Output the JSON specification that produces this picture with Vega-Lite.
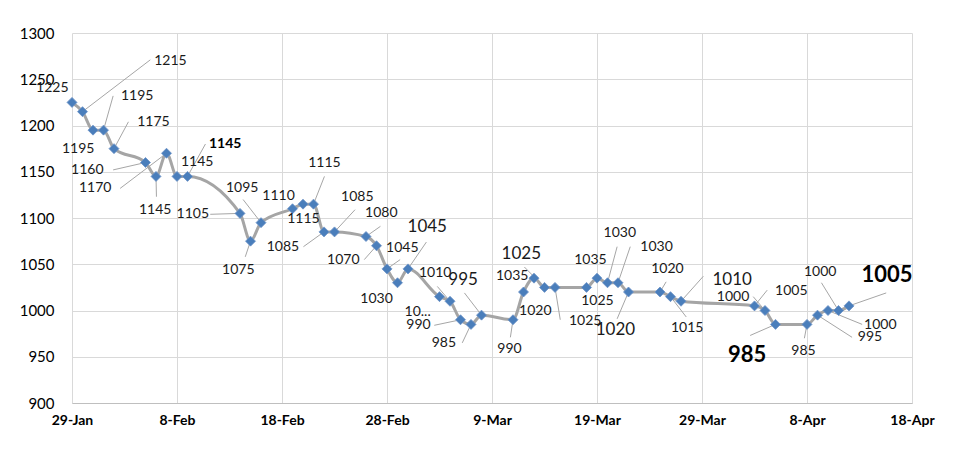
{
  "$schema": "https://vega.github.io/schema/vega-lite/v6.json",
  "width": 840,
  "height": 370,
  "autosize": {"type": "none"},
  "padding": {"left": 72, "top": 33, "right": 68, "bottom": 67},
  "background": "white",
  "config": {
    "view": {"stroke": null},
    "font": "Lato",
    "axis": {"labelFont": "Lato", "labelColor": "#000000", "gridColor": "#d9d9d9", "gridWidth": 1, "ticks": false}
  },
  "data": {
    "values": [
      {"date": "2020-01-29T00:00", "value": 1225, "label": "1225", "emphasis": "none", "labelDate": "2020-01-27T03:00", "labelValue": 1241},
      {"date": "2020-01-30T00:00", "value": 1215, "label": "1215", "emphasis": "none", "labelDate": "2020-02-07T09:00", "labelValue": 1270, "leaderDate": "2020-02-05T11:00", "leaderValue": 1271},
      {"date": "2020-01-31T00:00", "value": 1195, "label": "1195", "emphasis": "none", "labelDate": "2020-01-29T14:00", "labelValue": 1175},
      {"date": "2020-02-01T00:00", "value": 1195, "label": "1195", "emphasis": "none", "labelDate": "2020-02-04T05:00", "labelValue": 1232, "leaderDate": "2020-02-01T22:00", "leaderValue": 1232},
      {"date": "2020-02-02T00:00", "value": 1175, "label": "1175", "emphasis": "none", "labelDate": "2020-02-05T18:00", "labelValue": 1204, "leaderDate": "2020-02-03T09:00", "leaderValue": 1204},
      {"date": "2020-02-05T00:00", "value": 1160, "label": "1160", "emphasis": "none", "labelDate": "2020-01-30T11:00", "labelValue": 1152, "leaderDate": "2020-02-01T22:00", "leaderValue": 1152},
      {"date": "2020-02-06T00:00", "value": 1145, "label": "1145", "emphasis": "none", "labelDate": "2020-02-05T22:00", "labelValue": 1109, "leaderDate": "2020-02-06T01:00", "leaderValue": 1123},
      {"date": "2020-02-07T00:00", "value": 1170, "label": "1170", "emphasis": "none", "labelDate": "2020-01-31T05:00", "labelValue": 1132, "leaderDate": "2020-02-02T14:00", "leaderValue": 1132},
      {"date": "2020-02-08T00:00", "value": 1145, "label": "1145", "emphasis": "none", "labelDate": "2020-02-09T22:00", "labelValue": 1161},
      {"date": "2020-02-09T00:00", "value": 1145, "label": "1145", "emphasis": "bold", "labelDate": "2020-02-12T14:00", "labelValue": 1180, "leaderDate": "2020-02-10T17:00", "leaderValue": 1180},
      {"date": "2020-02-14T00:00", "value": 1105, "label": "1105", "emphasis": "none", "labelDate": "2020-02-09T12:00", "labelValue": 1104, "leaderDate": "2020-02-11T04:00", "leaderValue": 1104},
      {"date": "2020-02-15T00:00", "value": 1075, "label": "1075", "emphasis": "none", "labelDate": "2020-02-13T20:00", "labelValue": 1044, "leaderDate": "2020-02-14T12:00", "leaderValue": 1058},
      {"date": "2020-02-16T00:00", "value": 1095, "label": "1095", "emphasis": "none", "labelDate": "2020-02-14T05:00", "labelValue": 1132, "leaderDate": "2020-02-14T07:00", "leaderValue": 1120},
      {"date": "2020-02-19T00:00", "value": 1110, "label": "1110", "emphasis": "none", "labelDate": "2020-02-17T16:00", "labelValue": 1124},
      {"date": "2020-02-20T00:00", "value": 1115, "label": "1115", "emphasis": "none", "labelDate": "2020-02-20T01:00", "labelValue": 1099},
      {"date": "2020-02-21T00:00", "value": 1115, "label": "1115", "emphasis": "none", "labelDate": "2020-02-22T01:00", "labelValue": 1159, "leaderDate": "2020-02-22T01:00", "leaderValue": 1145},
      {"date": "2020-02-22T00:00", "value": 1085, "label": "1085", "emphasis": "none", "labelDate": "2020-02-18T02:00", "labelValue": 1069, "leaderDate": "2020-02-20T01:00", "leaderValue": 1069},
      {"date": "2020-02-23T00:00", "value": 1085, "label": "1085", "emphasis": "none", "labelDate": "2020-02-25T04:00", "labelValue": 1123, "leaderDate": "2020-02-24T23:00", "leaderValue": 1109},
      {"date": "2020-02-26T00:00", "value": 1080, "label": "1080", "emphasis": "none", "labelDate": "2020-02-27T11:00", "labelValue": 1105, "leaderDate": "2020-02-27T09:00", "leaderValue": 1091},
      {"date": "2020-02-27T00:00", "value": 1070, "label": "1070", "emphasis": "none", "labelDate": "2020-02-23T20:00", "labelValue": 1055, "leaderDate": "2020-02-25T20:00", "leaderValue": 1055},
      {"date": "2020-02-28T00:00", "value": 1045, "label": "1045", "emphasis": "none", "labelDate": "2020-02-29T11:00", "labelValue": 1068, "leaderDate": "2020-02-29T06:00", "leaderValue": 1055},
      {"date": "2020-02-29T00:00", "value": 1030, "label": "1030", "emphasis": "none", "labelDate": "2020-02-27T00:00", "labelValue": 1012},
      {"date": "2020-03-01T00:00", "value": 1045, "label": "1045", "emphasis": "medium", "labelDate": "2020-03-02T20:00", "labelValue": 1090, "leaderDate": "2020-03-02T18:00", "leaderValue": 1074},
      {"date": "2020-03-04T00:00", "value": 1015, "label": "10...", "emphasis": "none", "labelDate": "2020-03-01T22:00", "labelValue": 998},
      {"date": "2020-03-05T00:00", "value": 1010, "label": "1010", "emphasis": "none", "labelDate": "2020-03-03T14:00", "labelValue": 1041, "leaderDate": "2020-03-03T19:00", "leaderValue": 1026},
      {"date": "2020-03-06T00:00", "value": 990, "label": "990", "emphasis": "none", "labelDate": "2020-03-02T00:00", "labelValue": 984, "leaderDate": "2020-03-03T12:00", "leaderValue": 984},
      {"date": "2020-03-07T00:00", "value": 985, "label": "985", "emphasis": "none", "labelDate": "2020-03-04T10:00", "labelValue": 965, "leaderDate": "2020-03-06T04:00", "leaderValue": 965},
      {"date": "2020-03-08T00:00", "value": 995, "label": "995", "emphasis": "medium", "labelDate": "2020-03-06T06:00", "labelValue": 1033, "leaderDate": "2020-03-06T09:00", "leaderValue": 1019},
      {"date": "2020-03-11T00:00", "value": 990, "label": "990", "emphasis": "none", "labelDate": "2020-03-10T16:00", "labelValue": 958, "leaderDate": "2020-03-10T18:00", "leaderValue": 971},
      {"date": "2020-03-12T00:00", "value": 1020, "label": "1020", "emphasis": "none", "labelDate": "2020-03-13T03:00", "labelValue": 1000},
      {"date": "2020-03-13T00:00", "value": 1035, "label": "1035", "emphasis": "none", "labelDate": "2020-03-10T22:00", "labelValue": 1037},
      {"date": "2020-03-14T00:00", "value": 1025, "label": "1025", "emphasis": "medium", "labelDate": "2020-03-11T19:00", "labelValue": 1061, "leaderDate": "2020-03-12T02:00", "leaderValue": 1047},
      {"date": "2020-03-15T00:00", "value": 1025, "label": "1025", "emphasis": "none", "labelDate": "2020-03-17T21:00", "labelValue": 989, "leaderDate": "2020-03-15T12:00", "leaderValue": 990},
      {"date": "2020-03-18T00:00", "value": 1025, "label": "1025", "emphasis": "none", "labelDate": "2020-03-19T01:00", "labelValue": 1010},
      {"date": "2020-03-19T00:00", "value": 1035, "label": "1035", "emphasis": "none", "labelDate": "2020-03-18T09:00", "labelValue": 1055},
      {"date": "2020-03-20T00:00", "value": 1030, "label": "1030", "emphasis": "none", "labelDate": "2020-03-21T04:00", "labelValue": 1084, "leaderDate": "2020-03-20T22:00", "leaderValue": 1069},
      {"date": "2020-03-21T00:00", "value": 1030, "label": "1030", "emphasis": "none", "labelDate": "2020-03-24T16:00", "labelValue": 1069, "leaderDate": "2020-03-22T04:00", "leaderValue": 1069},
      {"date": "2020-03-22T00:00", "value": 1020, "label": "1020", "emphasis": "medium", "labelDate": "2020-03-20T18:00", "labelValue": 979, "leaderDate": "2020-03-20T22:00", "leaderValue": 991},
      {"date": "2020-03-25T00:00", "value": 1020, "label": "1020", "emphasis": "none", "labelDate": "2020-03-25T17:00", "labelValue": 1045, "leaderDate": "2020-03-25T14:00", "leaderValue": 1031},
      {"date": "2020-03-26T00:00", "value": 1015, "label": "1015", "emphasis": "none", "labelDate": "2020-03-27T14:00", "labelValue": 981, "leaderDate": "2020-03-27T12:00", "leaderValue": 993},
      {"date": "2020-03-27T00:00", "value": 1010, "label": "1010", "emphasis": "medium", "labelDate": "2020-03-31T21:00", "labelValue": 1033, "leaderDate": "2020-03-29T03:00", "leaderValue": 1037},
      {"date": "2020-04-03T00:00", "value": 1005, "label": "1005", "emphasis": "none", "labelDate": "2020-04-06T12:00", "labelValue": 1021, "leaderDate": "2020-04-04T05:00", "leaderValue": 1022},
      {"date": "2020-04-04T00:00", "value": 1000, "label": "1000", "emphasis": "none", "labelDate": "2020-03-31T23:00", "labelValue": 1015, "leaderDate": "2020-04-02T21:00", "leaderValue": 1015},
      {"date": "2020-04-05T00:00", "value": 985, "label": "985", "emphasis": "key", "labelDate": "2020-04-02T07:00", "labelValue": 952, "leaderDate": "2020-04-02T14:00", "leaderValue": 973},
      {"date": "2020-04-08T00:00", "value": 985, "label": "985", "emphasis": "none", "labelDate": "2020-04-07T16:00", "labelValue": 956, "leaderDate": "2020-04-07T18:00", "leaderValue": 970},
      {"date": "2020-04-09T00:00", "value": 995, "label": "995", "emphasis": "none", "labelDate": "2020-04-14T00:00", "labelValue": 971, "leaderDate": "2020-04-12T07:00", "leaderValue": 971},
      {"date": "2020-04-10T00:00", "value": 1000, "label": "1000", "emphasis": "none", "labelDate": "2020-04-14T23:30", "labelValue": 984, "leaderDate": "2020-04-13T06:00", "leaderValue": 985},
      {"date": "2020-04-11T00:00", "value": 1000, "label": "1000", "emphasis": "none", "labelDate": "2020-04-09T06:00", "labelValue": 1042, "leaderDate": "2020-04-09T09:00", "leaderValue": 1030},
      {"date": "2020-04-12T00:00", "value": 1005, "label": "1005", "emphasis": "key", "labelDate": "2020-04-15T15:00", "labelValue": 1038, "leaderDate": "2020-04-15T13:00", "leaderValue": 1019}
    ]
  },
  "layer": [
    {
      "mark": {"type": "line", "color": "#a5a5a5", "strokeWidth": 3, "interpolate": "monotone", "clip": false},
      "encoding": {
        "x": {
          "field": "date", "type": "temporal",
          "scale": {"domain": [{"year": 2020, "month": 1, "date": 29}, {"year": 2020, "month": 4, "date": 18}]},
          "axis": {
            "title": null, "format": "%-d-%b", "labelFontSize": 14, "labelFontWeight": "bold", "labelPadding": 10,
            "domainColor": "#bfbfbf", "domainWidth": 1, "labelFlush": false,
            "values": [
              {"year": 2020, "month": 1, "date": 29}, {"year": 2020, "month": 2, "date": 8}, {"year": 2020, "month": 2, "date": 18},
              {"year": 2020, "month": 2, "date": 28}, {"year": 2020, "month": 3, "date": 9}, {"year": 2020, "month": 3, "date": 19},
              {"year": 2020, "month": 3, "date": 29}, {"year": 2020, "month": 4, "date": 8}, {"year": 2020, "month": 4, "date": 18}
            ]
          }
        },
        "y": {
          "field": "value", "type": "quantitative",
          "scale": {"domain": [900, 1300], "zero": false, "nice": false},
          "axis": {"title": null, "format": "d", "values": [900, 950, 1000, 1050, 1100, 1150, 1200, 1250, 1300], "labelFontSize": 15, "labelPadding": 18, "domain": false}
        }
      }
    },
    {
      "transform": [{"filter": "isValid(datum.leaderDate)"}],
      "mark": {"type": "rule", "color": "#a6a6a6", "strokeWidth": 1, "clip": false},
      "encoding": {
        "x": {"field": "date", "type": "temporal"},
        "y": {"field": "value", "type": "quantitative"},
        "x2": {"field": "leaderDate"},
        "y2": {"field": "leaderValue"}
      }
    },
    {
      "mark": {"type": "point", "shape": "diamond", "filled": true, "size": 100, "color": "#4a7ebb", "stroke": "#6d93c7", "strokeWidth": 0.8, "opacity": 1},
      "encoding": {
        "x": {"field": "date", "type": "temporal"},
        "y": {"field": "value", "type": "quantitative"}
      }
    },
    {
      "transform": [{"filter": "datum.emphasis == 'none'"}],
      "mark": {"type": "text", "fontSize": 14, "color": "#1a1a1a", "align": "center", "baseline": "middle", "clip": false},
      "encoding": {
        "x": {"field": "labelDate", "type": "temporal"},
        "y": {"field": "labelValue", "type": "quantitative"},
        "text": {"field": "label"}
      }
    },
    {
      "transform": [{"filter": "datum.emphasis == 'medium'"}],
      "mark": {"type": "text", "fontSize": 17, "color": "#1a1a1a", "align": "center", "baseline": "middle", "clip": false},
      "encoding": {
        "x": {"field": "labelDate", "type": "temporal"},
        "y": {"field": "labelValue", "type": "quantitative"},
        "text": {"field": "label"}
      }
    },
    {
      "transform": [{"filter": "datum.emphasis == 'bold'"}],
      "mark": {"type": "text", "fontSize": 14, "fontWeight": "bold", "color": "#000000", "align": "center", "baseline": "middle", "clip": false},
      "encoding": {
        "x": {"field": "labelDate", "type": "temporal"},
        "y": {"field": "labelValue", "type": "quantitative"},
        "text": {"field": "label"}
      }
    },
    {
      "transform": [{"filter": "datum.emphasis == 'key'"}],
      "mark": {"type": "text", "fontSize": 22, "fontWeight": "bold", "color": "#000000", "align": "center", "baseline": "middle", "clip": false},
      "encoding": {
        "x": {"field": "labelDate", "type": "temporal"},
        "y": {"field": "labelValue", "type": "quantitative"},
        "text": {"field": "label"}
      }
    }
  ]
}
